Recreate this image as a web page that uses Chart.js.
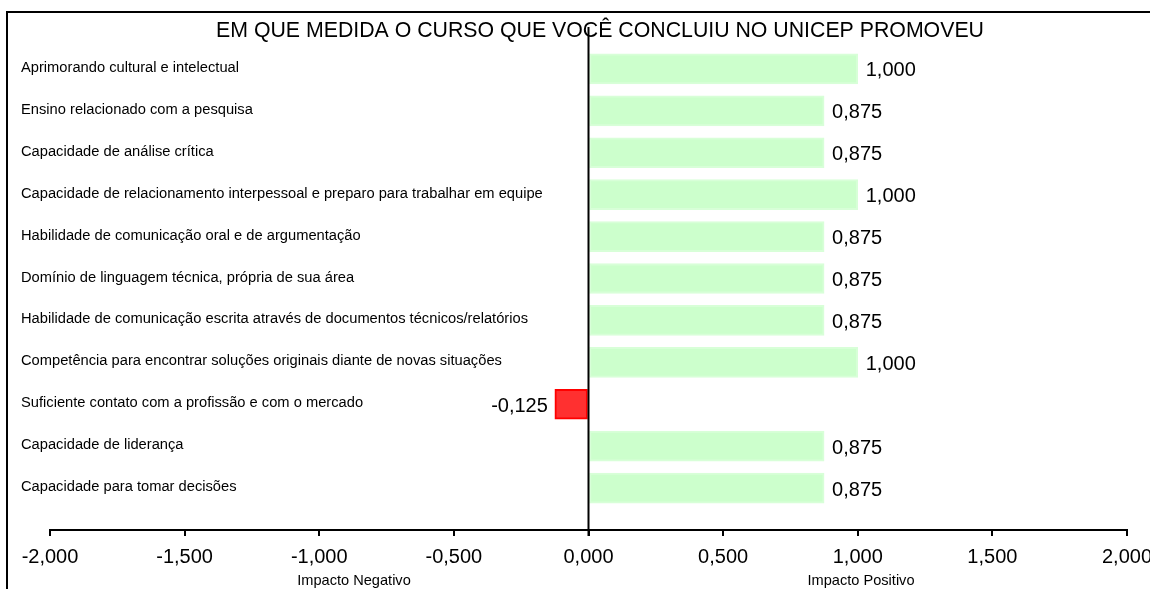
<!DOCTYPE html>
<html><head><meta charset="utf-8">
<script src="https://cdn.jsdelivr.net/npm/chart.js@4"></script>
<style>html,body{margin:0;padding:0;background:#fff}#wrap{width:1150px;height:589px}</style>
</head><body><div id="wrap"><canvas id="c" width="1150" height="589"></canvas></div>
<script>
const title = "EM QUE MEDIDA O CURSO QUE VOCÊ CONCLUIU NO UNICEP PROMOVEU";
const categories = [
  "Aprimorando cultural e intelectual",
  "Ensino relacionado com a pesquisa",
  "Capacidade de análise crítica",
  "Capacidade de relacionamento interpessoal e preparo para trabalhar em equipe",
  "Habilidade de comunicação oral e de argumentação",
  "Domínio de linguagem técnica, própria de sua área",
  "Habilidade de comunicação escrita através de documentos técnicos/relatórios",
  "Competência para encontrar soluções originais diante de novas situações",
  "Suficiente contato com a profissão e com o mercado",
  "Capacidade de liderança",
  "Capacidade para tomar decisões"
];
const values = [1.000, 0.875, 0.875, 1.000, 0.875, 0.875, 0.875, 1.000, -0.125, 0.875, 0.875];
const xTicks = [-2, -1.5, -1, -0.5, 0, 0.5, 1, 1.5, 2];
const axisTitleNeg = "Impacto Negativo";
const axisTitlePos = "Impacto Positivo";

const FONT = "'Liberation Sans', Arial, sans-serif";
const fmt = v => v.toFixed(3).replace('.', ',');

const decor = {
  id: 'decor',
  afterDatasetsDraw(chart) {
    const ctx = chart.ctx, xs = chart.scales.x, ys = chart.scales.y;
    const x0 = xs.getPixelForValue(0);
    ctx.save();
    ctx.strokeStyle = '#000'; ctx.lineWidth = 2;
    ctx.strokeRect(7, 12, 1160, 600);
    ctx.beginPath(); ctx.moveTo(x0, chart.chartArea.top); ctx.lineTo(x0, chart.chartArea.bottom + 6); ctx.stroke();
    ctx.fillStyle = '#000';
    ctx.font = '21.3px ' + FONT; ctx.textAlign = 'center'; ctx.textBaseline = 'middle';
    ctx.fillText(title, 600, 31);
    ctx.font = '14.7px ' + FONT; ctx.textAlign = 'left';
    categories.forEach((c, i) => ctx.fillText(c, 21, ys.getPixelForValue(i) - 1));
    ctx.font = '20px ' + FONT;
    values.forEach((v, i) => {
      const y = ys.getPixelForValue(i) + 2;
      const xe = xs.getPixelForValue(v);
      if (v >= 0) { ctx.textAlign = 'left'; ctx.fillText(fmt(v), xe + 8, y); }
      else { ctx.textAlign = 'right'; ctx.fillText(fmt(v), xe - 7, y); }
    });
    ctx.font = '14.6px ' + FONT; ctx.textAlign = 'center'; ctx.textBaseline = 'top';
    ctx.fillText(axisTitleNeg, 354, 574);
    ctx.fillText(axisTitlePos, 861, 574);
    ctx.restore();
  }
};

new Chart(document.getElementById('c'), {
  type: 'bar',
  data: {
    datasets: [{
      data: values.map((v, i) => ({x: v, y: i})),
      backgroundColor: values.map(v => v < 0 ? '#ff3030' : '#ccffcc'),
      borderColor: values.map(v => v < 0 ? '#ff0000' : '#d8ffd8'),
      borderWidth: 2,
      borderSkipped: false,
      barThickness: 30
    }]
  },
  options: {
    indexAxis: 'y',
    responsive: false,
    animation: false,
    layout: { padding: { left: 50, right: 23, top: 27, bottom: 0 } },
    plugins: { legend: { display: false }, tooltip: { enabled: false }, title: { display: false } },
    scales: {
      y: { type: 'linear', min: -1, max: 11, reverse: true, display: false, offset: false },
      x: {
        type: 'linear', min: -2, max: 2,
        afterBuildTicks: s => { s.ticks = xTicks.map(v => ({value: v})); },
        afterFit: s => { s.height = 59; s.paddingLeft = 0; s.paddingRight = 0; },
        grid: { drawOnChartArea: false, drawTicks: true, tickLength: 6, color: '#000', lineWidth: 2 },
        border: { display: true, color: '#000', width: 2 },
        ticks: { color: '#000', font: { size: 20, family: FONT }, padding: 9, maxRotation: 0, callback: v => fmt(v) }
      }
    }
  },
  plugins: [decor]
});
</script>
</body></html>
